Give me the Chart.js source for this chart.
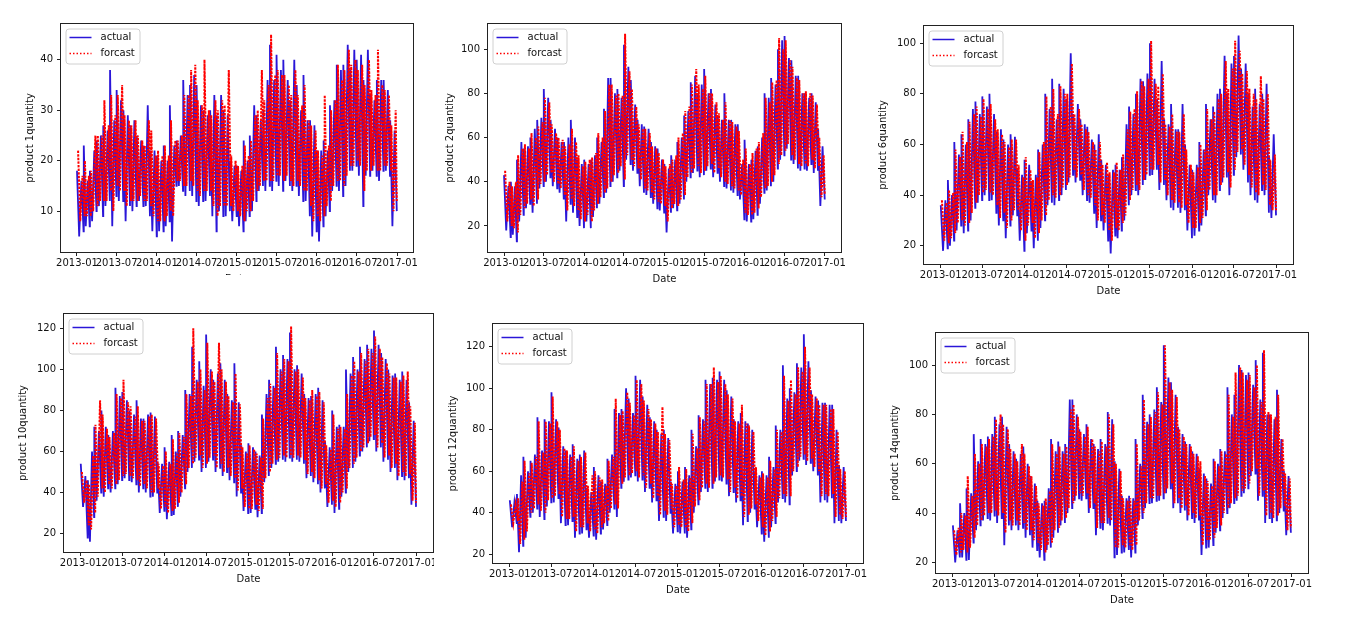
<!DOCTYPE html>
<html>
<head>
    <meta charset="UTF-8">
    <title>actual vs forcast</title>
    <style>
        body {
            margin: 0;
            background: #fff;
            width: 1353px;
            height: 627px;
            overflow: hidden;
            position: relative;
        }
        .panel {
            position: absolute;
            overflow: hidden;
        }
        .panel canvas {
            position: absolute;
            left: 0;
            top: 0;
        }
    </style>
</head>
<body>
    <div class="panel" id="p1"><canvas></canvas></div>
    <div class="panel" id="p2"><canvas></canvas></div>
    <div class="panel" id="p3"><canvas></canvas></div>
    <div class="panel" id="p4"><canvas></canvas></div>
    <div class="panel" id="p5"><canvas></canvas></div>
    <div class="panel" id="p6"><canvas></canvas></div>

    <script src="https://cdn.jsdelivr.net/npm/chart.js"></script>
    <script>
        // x axis tick labels (daily data 2013-01-01 .. 2016-12-31)
        const tickLabels = ['2013-01', '2013-07', '2014-01', '2014-07', '2015-01', '2015-07', '2016-01', '2016-07', '2017-01'];

        // values, 4 samples per month (48 months)
        const actual1 = [
            18,5,16,6, 23,7,16,7, 18,8,22,10, 24,11,25,9,
            27,11,26,12, 38,7,28,13, 34,12,32,12, 30,8,29,11,
            27,10,28,11, 25,12,24,11, 23,11,31,9, 22,6,22,5,
            21,6,20,6, 23,7,20,8, 31,4,23,15, 24,15,25,14,
            36,13,33,14, 35,13,37,12, 35,11,31,12, 30,12,29,13,
            30,9,33,6, 29,10,33,9, 30,9,29,10, 20,8,19,9,
            19,7,18,6, 24,8,20,9, 25,10,31,12, 29,14,28,15,
            30,14,36,15, 43,14,36,16, 41,15,38,14, 40,16,36,15,
            32,14,40,15, 35,13,30,12, 37,12,28,9, 28,5,27,6,
            22,4,22,7, 24,9,22,10, 31,14,32,15, 39,14,38,13,
            39,15,43,18, 38,18,42,19, 40,17,41,11, 36,17,42,17,
            33,18,32,17, 36,16,36,18, 36,18,34,17, 28,7,26,10
        ];
        const forecast1 = [
            22,8,17,9, 20,9,17,9, 18,10,25,11, 25,12,25,12,
            32,12,27,14, 33,10,29,15, 33,14,35,14, 29,11,28,12,
            27,12,28,12, 25,13,24,12, 23,12,28,11, 26,9,21,8,
            22,8,21,8, 23,9,21,10, 28,9,24,16, 24,16,25,15,
            33,15,33,16, 38,15,39,14, 32,13,31,14, 40,14,30,14,
            29,11,32,9, 30,11,32,11, 31,11,38,11, 21,10,20,10,
            19,9,19,8, 23,10,21,10, 24,12,29,14, 30,15,38,16,
            32,16,35,16, 45,16,37,17, 38,17,37,16, 37,17,35,16,
            33,15,38,16, 33,15,31,14, 35,14,28,11, 27,8,26,9,
            22,8,21,9, 33,11,23,12, 30,15,32,16, 39,16,36,15,
            38,17,42,19, 39,19,40,20, 38,19,39,14, 35,18,40,18,
            34,19,33,18, 42,18,35,19, 34,19,33,18, 27,10,30,12
        ];

        const actual2 = [
            43,18,38,15, 40,16,38,13, 50,22,58,25, 55,28,56,30,
            60,26,64,30, 68,37,69,38, 82,40,78,42, 68,38,64,37,
            60,35,58,32, 58,22,60,30, 68,26,60,24, 50,20,48,19,
            50,22,48,19, 50,24,52,28, 60,30,58,33, 73,35,87,38,
            87,40,80,42, 82,45,78,38, 102,50,92,48, 86,45,75,44,
            68,38,66,35, 65,34,64,33, 58,30,56,28, 55,27,50,26,
            48,17,46,26, 52,28,50,27, 58,30,60,32, 70,40,72,42,
            85,44,88,45, 80,42,84,43, 91,45,80,46, 82,42,75,44,
            70,40,68,38, 80,37,68,36, 68,35,66,34, 66,32,48,23,
            59,22,48,22, 50,23,54,25, 56,30,60,35, 80,36,78,38,
            87,40,84,46, 100,50,104,52, 106,55,96,50, 95,48,88,46,
            88,45,80,46, 80,45,78,48, 80,44,76,45, 64,29,56,32
        ];
        const forecast2 = [
            45,22,40,20, 38,19,40,17, 52,25,55,28, 57,30,55,32,
            62,29,60,32, 65,39,67,40, 78,43,76,44, 66,40,62,39,
            60,37,59,34, 56,27,57,32, 64,29,58,27, 52,23,47,22,
            49,25,50,22, 51,27,53,30, 62,33,60,35, 72,37,84,40,
            84,43,79,44, 80,47,79,41, 107,52,90,50, 82,47,74,46,
            66,41,64,37, 64,36,62,35, 56,32,55,31, 53,30,50,29,
            47,22,48,28, 50,30,52,29, 60,32,62,34, 72,42,74,44,
            84,46,91,47, 84,44,82,45, 88,47,80,48, 80,44,76,46,
            71,42,68,40, 76,39,68,38, 67,37,65,36, 63,34,50,26,
            55,25,48,25, 53,26,55,28, 58,33,62,37, 78,38,76,40,
            85,43,86,48, 105,52,100,54, 104,57,95,52, 92,50,87,48,
            86,47,80,48, 81,47,80,50, 79,46,75,47, 60,33,52,34
        ];

        const actual6 = [
            36,18,38,19, 46,20,40,22, 61,26,56,28, 64,25,60,26,
            70,30,74,35, 77,37,72,38, 79,40,75,38, 80,38,72,33,
            65,28,66,30, 62,23,60,28, 64,32,63,32, 50,22,48,18,
            54,25,52,26, 45,19,48,22, 58,27,60,30, 80,36,74,37,
            86,36,70,38, 84,40,82,42, 78,45,96,48, 72,45,76,46,
            70,40,68,38, 67,37,62,33, 60,27,64,30, 54,26,52,22,
            48,17,50,24, 52,23,50,26, 55,30,68,36, 75,40,72,42,
            80,40,86,44, 85,46,88,48, 100,48,86,50, 78,42,93,44,
            70,38,68,35, 76,34,66,35, 66,33,76,34, 60,26,52,23,
            50,24,52,26, 61,28,58,32, 76,40,70,38, 75,37,80,42,
            82,45,95,47, 80,40,92,48, 95,55,103,56, 90,50,92,45,
            80,40,75,38, 82,37,76,42, 80,40,84,33, 55,31,64,32
        ];
        const forecast6 = [
            38,22,37,21, 42,23,41,25, 58,29,55,30, 65,28,61,29,
            69,33,72,37, 75,40,71,41, 78,42,74,41, 76,40,70,36,
            66,31,64,33, 61,27,59,30, 62,34,62,34, 52,26,47,22,
            55,28,50,29, 46,23,47,25, 57,30,61,32, 79,38,75,40,
            82,39,72,40, 83,43,80,44, 80,47,92,50, 72,47,74,48,
            68,42,66,40, 65,39,61,36, 58,30,61,32, 52,29,53,26,
            49,22,49,27, 53,26,50,29, 56,32,66,38, 73,42,74,44,
            81,42,85,46, 83,48,86,50, 101,50,84,52, 83,45,88,46,
            68,40,67,38, 72,37,65,37, 65,35,72,36, 58,29,52,27,
            49,27,51,29, 60,31,58,34, 74,42,70,40, 73,40,78,44,
            80,47,93,49, 82,43,90,50, 101,57,97,58, 88,52,89,48,
            82,43,80,41, 78,40,87,44, 78,42,80,36, 54,34,56,34
        ];

        const actual10 = [
            54,33,48,18, 46,16,60,28, 72,36,70,40, 80,38,72,42,
            68,40,70,42, 91,44,87,46, 89,47,85,46, 80,45,78,44,
            85,40,76,42, 76,40,78,38, 79,38,77,40, 55,30,54,31,
            62,27,55,29, 68,29,60,33, 70,38,68,42, 90,50,88,52,
            111,55,95,56, 104,50,92,52, 117,55,100,56, 95,50,98,52,
            103,48,95,50, 88,46,85,45, 103,38,84,40, 63,31,60,30,
            64,30,62,32, 60,28,58,30, 78,45,88,48, 95,52,92,54,
            111,55,100,56, 107,55,105,57, 118,55,100,56, 102,55,98,54,
            88,47,86,48, 87,45,88,44, 91,40,85,42, 65,33,62,34,
            80,30,72,32, 73,38,72,40, 100,50,98,52, 106,55,100,58,
            111,60,105,62, 112,65,110,66, 119,60,112,62, 108,55,105,56,
            100,50,97,52, 98,46,95,48, 99,46,95,47, 84,34,75,33
        ];
        const forecast10 = [
            50,35,46,24, 44,22,58,30, 73,38,85,42, 78,40,71,44,
            67,42,69,44, 88,46,86,48, 95,49,84,48, 82,47,77,46,
            82,43,75,44, 75,42,77,40, 78,40,76,42, 54,32,53,33,
            60,30,54,31, 66,32,59,35, 69,40,67,44, 88,52,87,54,
            120,57,94,58, 100,52,90,54, 113,57,99,58, 94,52,113,54,
            100,50,94,52, 87,48,84,47, 98,41,83,42, 62,33,59,32,
            63,32,61,34, 59,31,57,32, 76,47,86,50, 93,54,91,56,
            108,57,99,58, 105,57,104,58, 121,57,99,58, 100,57,96,56,
            86,49,85,50, 90,47,87,46, 89,42,84,44, 63,35,61,36,
            78,33,71,35, 72,40,71,42, 88,52,97,54, 104,57,99,60,
            108,62,104,64, 110,67,108,68, 116,62,110,64, 106,57,103,58,
            98,52,96,54, 96,48,94,50, 97,48,99,49, 82,36,74,35
        ];

        const actual12 = [
            46,33,45,35, 49,21,58,24, 67,28,60,38, 65,40,68,42,
            86,38,70,37, 85,43,84,45, 98,45,85,47, 81,35,72,34,
            70,34,68,36, 73,28,66,30, 68,30,70,32, 52,28,50,29,
            62,27,58,30, 55,32,54,34, 66,40,68,42, 90,38,88,52,
            90,55,100,56, 95,57,88,58, 106,55,104,56, 96,50,92,52,
            86,45,84,46, 80,36,78,38, 80,36,76,40, 55,30,54,31,
            60,30,55,30, 62,28,58,32, 80,40,72,44, 87,50,85,52,
            104,50,102,52, 105,55,104,56, 108,55,104,54, 99,48,96,50,
            85,45,84,46, 88,34,84,36, 83,40,80,42, 60,33,58,30,
            60,26,58,28, 67,33,62,35, 82,45,80,47, 111,45,95,44,
            100,58,98,60, 112,65,110,66, 126,63,113,64, 99,60,96,58,
            94,45,93,46, 93,45,92,47, 92,35,80,36, 63,35,62,36
        ];
        const forecast12 = [
            44,35,44,36, 47,25,55,27, 65,31,59,40, 64,42,67,44,
            84,41,69,40, 84,46,83,47, 96,48,84,49, 80,38,71,37,
            70,37,67,38, 72,31,65,33, 67,33,69,35, 53,31,58,32,
            60,30,57,33, 56,35,53,36, 65,42,67,44, 95,42,87,54,
            89,57,98,58, 93,59,87,60, 104,57,102,58, 94,52,90,54,
            85,47,83,48, 79,39,91,41, 78,39,75,42, 54,33,53,34,
            62,33,56,33, 61,31,57,35, 78,43,71,46, 86,52,84,54,
            102,52,102,54, 110,57,103,58, 106,57,102,56, 97,50,95,52,
            84,47,83,48, 92,38,83,39, 82,42,79,44, 62,36,57,33,
            59,29,57,31, 65,36,61,38, 80,47,79,49, 106,48,94,48,
            104,60,97,62, 110,67,108,68, 120,65,110,66, 97,62,95,60,
            92,48,92,49, 92,48,90,49, 90,38,79,39, 61,37,60,38
        ];

        const actual14 = [
            35,20,33,22, 44,22,40,21, 50,21,48,28, 72,33,61,35,
            70,37,68,38, 71,37,72,39, 79,36,76,38, 79,27,75,35,
            68,33,65,35, 62,33,64,34, 67,30,60,31, 55,26,52,25,
            45,22,44,21, 45,25,50,26, 70,30,65,32, 69,35,65,36,
            68,40,86,42, 86,45,80,46, 74,45,72,46, 76,40,70,42,
            68,31,66,34, 70,33,68,36, 81,35,78,22, 61,23,58,24,
            47,24,46,25, 47,22,46,24, 70,35,60,38, 88,42,77,44,
            80,44,82,45, 91,45,85,46, 108,48,95,50, 93,42,88,44,
            75,40,72,41, 69,37,68,38, 65,36,64,37, 58,23,56,26,
            54,26,52,27, 62,32,60,33, 66,38,65,40, 91,42,80,44,
            88,45,100,47, 98,48,96,50, 97,55,92,56, 102,45,86,47,
            105,36,80,38, 80,36,78,37, 90,40,70,41, 57,31,55,32
        ];
        const forecast14 = [
            33,23,34,24, 40,25,39,24, 55,26,47,30, 64,35,60,37,
            68,39,67,40, 70,40,71,41, 78,39,80,40, 76,32,74,37,
            66,35,64,37, 61,35,68,36, 64,33,59,33, 55,29,51,28,
            44,25,43,24, 46,27,49,28, 68,33,64,34, 67,37,64,38,
            67,42,82,44, 84,47,79,48, 73,47,71,48, 75,42,70,44,
            67,34,65,36, 69,36,67,38, 80,37,76,26, 60,26,57,27,
            46,26,45,27, 46,25,45,27, 68,37,59,40, 86,44,76,46,
            79,46,81,47, 89,47,84,48, 108,50,93,52, 90,44,87,46,
            74,42,71,43, 68,39,67,40, 64,38,63,39, 61,27,55,29,
            53,29,51,30, 61,34,59,35, 65,40,64,42, 88,44,79,46,
            97,47,99,49, 97,50,94,52, 96,57,91,58, 100,47,85,49,
            106,39,81,40, 80,38,79,39, 88,42,70,43, 56,33,54,34
        ];

        const yTicks1 = [10, 20, 30, 40];
        const yTicks2 = [20, 40, 60, 80, 100];
        const yTicks10 = [20, 40, 60, 80, 100, 120];

        // day offsets from 2013-01-01 of each sample (4 per month, first..last day)
        const DAY = 864e5;
        const t0 = Date.UTC(2013, 0, 1);
        const sampleDays = [];
        for (let m = 0; m < 48; m++) {
            const start = (Date.UTC(2013, m, 1) - t0) / DAY;
            const len = (Date.UTC(2013, m + 1, 1) - Date.UTC(2013, m, 1)) / DAY;
            for (let k = 0; k < 4; k++) {
                sampleDays.push(start + Math.round(k * (len - 1) / 3));
            }
        }
        // forecast samples sit between the actual ones
        const forecastDays = sampleDays.map(d => Math.min(d + 5, 1460));
        const tickDays = tickLabels.map(s => (Date.UTC(+s.slice(0, 4), +s.slice(5) - 1, 1) - t0) / DAY);

        // panel layout: plot box [left, top, right, bottom] in page pixels
        const panels = [
            { id: 'p1', label: 'product 1quantity', actual: actual1, forecast: forecast1,
              yMin: 1.9, yMax: 47.1, yTicks: yTicks1, box: [61, 24, 413, 252], titleGap: 31, clipBottom: 275 },
            { id: 'p2', label: 'product 2quantity', actual: actual2, forecast: forecast2,
              yMin: 8.2, yMax: 111.4, yTicks: yTicks2, box: [488, 24, 841, 252], titleGap: 38 },
            { id: 'p3', label: 'product 6quantity', actual: actual6, forecast: forecast6,
              yMin: 12.8, yMax: 106.8, yTicks: yTicks2, box: [924, 26, 1293, 264], titleGap: 41, clipBottom: 295 },
            { id: 'p4', label: 'product 10quantity', actual: actual10, forecast: forecast10,
              yMin: 11, yMax: 127, yTicks: yTicks10, box: [64, 314, 433, 552], titleGap: 41, clipRight: 434 },
            { id: 'p5', label: 'product 12quantity', actual: actual12, forecast: forecast12,
              yMin: 15.8, yMax: 130.9, yTicks: yTicks10, box: [493, 324, 863, 563], titleGap: 40 },
            { id: 'p6', label: 'product 14quantity', actual: actual14, forecast: forecast14,
              yMin: 15.7, yMax: 113, yTicks: yTicks2, box: [936, 333, 1308, 573], titleGap: 41 }
        ];

        Chart.defaults.font.family = '"DejaVu Sans", sans-serif';
        Chart.defaults.font.size = 10;
        Chart.defaults.color = '#111';

        // axes frame + matplotlib style legend box in the upper left
        const frameLegend = {
            id: 'frameLegend',
            afterDraw(chart) {
                const ctx = chart.ctx;
                const a = chart.chartArea;
                ctx.save();
                ctx.strokeStyle = '#222';
                ctx.lineWidth = 1;
                ctx.strokeRect(Math.round(a.left) - 0.5, Math.round(a.top) - 0.5,
                    Math.round(a.right - a.left) + 1, Math.round(a.bottom - a.top) + 1);

                const x = a.left + 5, y = a.top + 5, w = 74, h = 35, r = 3;
                ctx.beginPath();
                ctx.moveTo(x + r, y);
                ctx.arcTo(x + w, y, x + w, y + h, r);
                ctx.arcTo(x + w, y + h, x, y + h, r);
                ctx.arcTo(x, y + h, x, y, r);
                ctx.arcTo(x, y, x + w, y, r);
                ctx.closePath();
                ctx.fillStyle = 'rgba(255,255,255,0.8)';
                ctx.fill();
                ctx.strokeStyle = '#d0d0d0';
                ctx.stroke();

                chart.data.datasets.forEach((ds, i) => {
                    const ry = y + 8.5 + i * 16;
                    ctx.setLineDash(ds.borderDash ? [1.5, 2] : []);
                    ctx.strokeStyle = ds.borderColor;
                    ctx.lineWidth = 1.5;
                    ctx.beginPath();
                    ctx.moveTo(x + 3.5, ry);
                    ctx.lineTo(x + 25.5, ry);
                    ctx.stroke();
                    ctx.setLineDash([]);
                    ctx.fillStyle = '#111';
                    ctx.font = '10px "DejaVu Sans"';
                    ctx.textBaseline = 'middle';
                    ctx.fillText(ds.label, x + 34.5, ry);
                });
                ctx.restore();
            }
        };

        panels.forEach(p => {
            const [L, T, R, B] = p.box;
            const wY = p.titleGap + 6;
            const padTop = 10, padRight = 16, hX = 33;
            const cl = L - wY, ct = T - padTop;
            const cw = wY + (R - L) + padRight, ch = padTop + (B - T) + hX;

            const wrap = document.getElementById(p.id);
            wrap.style.left = cl + 'px';
            wrap.style.top = ct + 'px';
            wrap.style.width = (p.clipRight ? p.clipRight - cl : cw) + 'px';
            wrap.style.height = (p.clipBottom ? p.clipBottom - ct : ch) + 'px';
            const canvas = wrap.querySelector('canvas');
            canvas.width = cw;
            canvas.height = ch;

            const toPoints = (vals, days) => vals.map((v, i) => ({ x: days[i], y: v }));

            new Chart(canvas, {
                type: 'line',
                data: {
                    datasets: [{
                        label: 'actual',
                        data: toPoints(p.actual, sampleDays),
                        borderColor: '#2a16d8',
                        borderWidth: 1.8,
                        pointRadius: 0,
                        tension: 0,
                        order: 1
                    }, {
                        label: 'forcast',
                        data: toPoints(p.forecast, forecastDays),
                        borderColor: '#ff0000',
                        borderWidth: 2,
                        borderDash: [2.4, 1.2],
                        pointRadius: 0,
                        tension: 0,
                        order: 0
                    }]
                },
                options: {
                    responsive: false,
                    animation: false,
                    devicePixelRatio: 1,
                    events: [],
                    layout: { padding: { top: padTop, right: padRight, left: 0, bottom: 0 } },
                    plugins: { legend: { display: false }, tooltip: { enabled: false } },
                    scales: {
                        x: {
                            type: 'linear',
                            min: -73,
                            max: 1534,
                            afterBuildTicks: s => { s.ticks = tickDays.map(v => ({ value: v })); },
                            afterFit: s => { s.height = hX; },
                            ticks: {
                                autoSkip: false,
                                maxRotation: 0,
                                minRotation: 0,
                                padding: 1,
                                callback: v => tickLabels[tickDays.indexOf(v)]
                            },
                            grid: { drawOnChartArea: false, drawTicks: true, tickLength: 4, color: '#222' },
                            border: { display: false },
                            title: { display: true, text: 'Date', padding: 0 }
                        },
                        y: {
                            min: p.yMin,
                            max: p.yMax,
                            afterBuildTicks: s => { s.ticks = p.yTicks.map(v => ({ value: v })); },
                            afterFit: s => { s.width = wY; },
                            ticks: { padding: 4 },
                            grid: { drawOnChartArea: false, drawTicks: true, tickLength: 4, color: '#222' },
                            border: { display: false },
                            title: { display: true, text: p.label, padding: 0 }
                        }
                    }
                },
                plugins: [frameLegend]
            });
        });
    </script>
</body>
</html>
